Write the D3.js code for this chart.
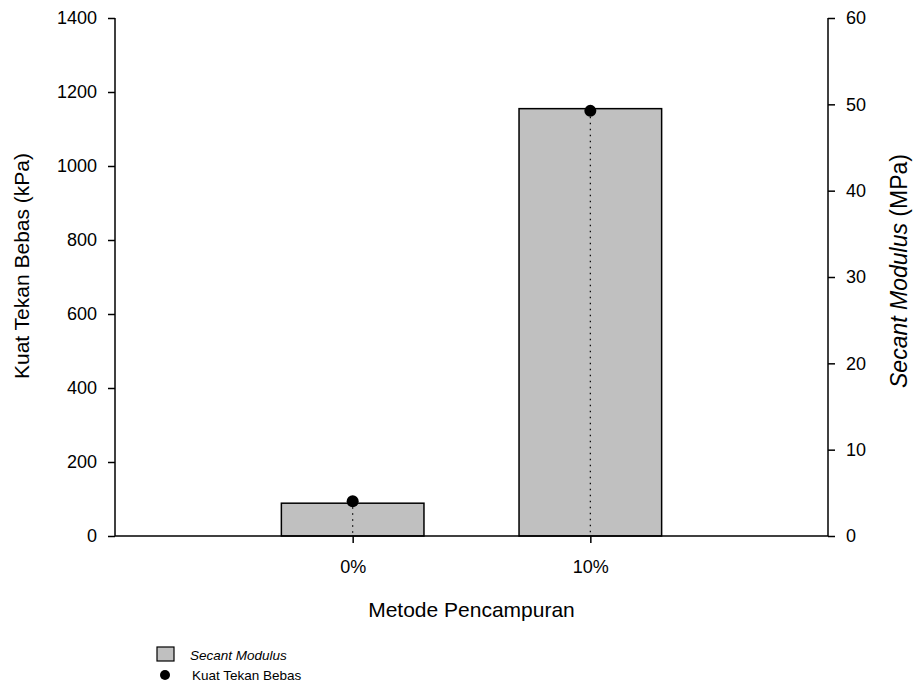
<!DOCTYPE html>
<html>
<head>
<meta charset="utf-8">
<script src="https://cdn.jsdelivr.net/npm/d3@7"></script>
<style>
  html, body { margin: 0; padding: 0; background: #fff; }
  svg { display: block; font-family: "Liberation Sans", Arial, sans-serif; }
</style>
</head>
<body>
<svg id="chart" width="916" height="693"></svg>
<script>
const categories = ["0%", "10%"];
const secantModulus = [3.8, 49.5];     // MPa, bars, right axis
const kuatTekanBebas = [94, 1149];     // kPa, dots, left axis
const leftTicks = [0, 200, 400, 600, 800, 1000, 1200, 1400];
const rightTicks = [0, 10, 20, 30, 40, 50, 60];

const svg = d3.select("#chart");
const L = 115, R = 828, T = 18, B = 536;

const x = d3.scaleLinear().domain([0, 3]).range([L, R]);
const yL = d3.scaleLinear().domain([0, 1400]).range([B, T]);
const yR = d3.scaleLinear().domain([0, 60]).range([B, T]);
const barW = (x(1) - x(0)) * 0.6;

// bars
svg.selectAll("rect.bar").data(secantModulus).enter().append("rect")
  .attr("class", "bar")
  .attr("x", (d, i) => x(i + 1) - barW / 2)
  .attr("y", d => yR(d))
  .attr("width", barW)
  .attr("height", d => yR(0) - yR(d))
  .attr("fill", "#c0c0c0")
  .attr("stroke", "#000")
  .attr("stroke-width", 1.5);

// dotted drop lines
svg.selectAll("line.drop").data(kuatTekanBebas).enter().append("line")
  .attr("x1", (d, i) => x(i + 1)).attr("x2", (d, i) => x(i + 1))
  .attr("y1", d => yL(d)).attr("y2", yL(0))
  .attr("stroke", "#000").attr("stroke-width", 1.2)
  .attr("stroke-dasharray", "1.5,4.5");

// dots
svg.selectAll("circle.pt").data(kuatTekanBebas).enter().append("circle")
  .attr("cx", (d, i) => x(i + 1))
  .attr("cy", d => yL(d))
  .attr("r", 6)
  .attr("fill", "#000");

// axes
const axL = d3.axisLeft(yL).tickValues(leftTicks).tickSize(7).tickPadding(11).tickFormat(d3.format("d"));
const axR = d3.axisRight(yR).tickValues(rightTicks).tickSize(7).tickPadding(11).tickFormat(d3.format("d"));
const axB = d3.axisBottom(x).tickValues([1, 2]).tickSize(7).tickPadding(17)
  .tickFormat(d => categories[d - 1]);

function style(g) {
  g.select(".domain").remove();
  g.selectAll(".tick line").attr("stroke", "#000").attr("stroke-width", 1.5);
  g.selectAll(".tick text").attr("fill", "#000").style("font-size", "18px")
    .style("font-family", "'Liberation Sans', Arial, sans-serif");
}
svg.append("g").attr("transform", `translate(${L},0)`).call(axL).call(style);
svg.append("g").attr("transform", `translate(${R},0)`).call(axR).call(style);
svg.append("g").attr("transform", `translate(0,${B})`).call(axB).call(style);

// axis lines
svg.append("line").attr("x1", L).attr("x2", L).attr("y1", T).attr("y2", B).attr("stroke", "#000").attr("stroke-width", 1.5);
svg.append("line").attr("x1", R).attr("x2", R).attr("y1", T).attr("y2", B).attr("stroke", "#000").attr("stroke-width", 1.5);
svg.append("line").attr("x1", L).attr("x2", R).attr("y1", B).attr("y2", B).attr("stroke", "#000").attr("stroke-width", 1.5);

// titles
svg.append("text").attr("x", (L + R) / 2).attr("y", 617).attr("text-anchor", "middle")
  .style("font-size", "21px").text("Metode Pencampuran");
svg.append("text").attr("transform", "translate(28.5,266) rotate(-90)").attr("text-anchor", "middle")
  .style("font-size", "21px").text("Kuat Tekan Bebas (kPa)");
const rt = svg.append("text").attr("transform", "translate(907,271) rotate(-90)").attr("text-anchor", "middle")
  .style("font-size", "23px");
rt.append("tspan").style("font-style", "italic").text("Secant Modulus");
rt.append("tspan").text(" (MPa)");

// legend
const lg = svg.append("g");
lg.append("rect").attr("x", 157).attr("y", 647).attr("width", 17).attr("height", 14)
  .attr("fill", "#c0c0c0").attr("stroke", "#000").attr("stroke-width", 1.2);
lg.append("text").attr("x", 190).attr("y", 660).style("font-size", "13.5px").style("font-style", "italic").text("Secant Modulus");
lg.append("circle").attr("cx", 165).attr("cy", 675).attr("r", 5).attr("fill", "#000");
lg.append("text").attr("x", 192).attr("y", 680).style("font-size", "13.5px").text("Kuat Tekan Bebas");
</script>
</body>
</html>
